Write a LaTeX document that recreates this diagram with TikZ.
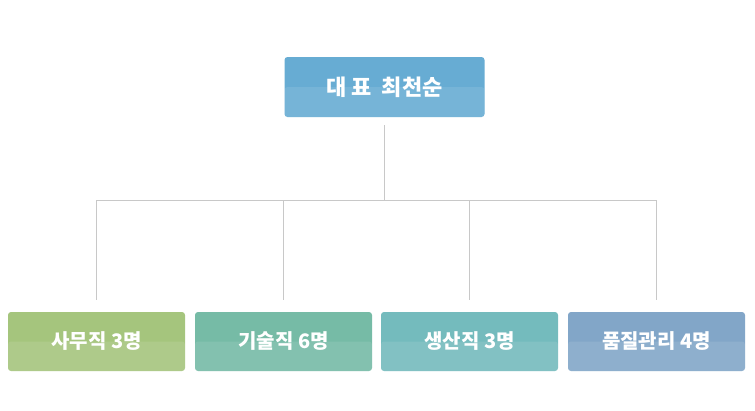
\documentclass[tikz,border=0pt]{standalone}
\usepackage{fontspec}
\setmainfont{Noto Sans CJK KR}
\definecolor{ceoblue}{HTML}{67ACD3}
\definecolor{officegreen}{HTML}{A5C57D}
\definecolor{techgreen}{HTML}{76BBA6}
\definecolor{prodteal}{HTML}{74BBBD}
\definecolor{qcblue}{HTML}{82A6C8}
\definecolor{linegray}{HTML}{C8C8C8}

\begin{document}
\begin{tikzpicture}[
    x=1pt, y=-1pt,
    box/.style={fill=#1, rounded corners=3pt, minimum width=177pt, minimum height=59pt, text=white, font=\fontsize{20}{24}\selectfont\bfseries,
      path picture={\fill[white, opacity=0.1] (path picture bounding box.west) rectangle (path picture bounding box.south east);}},
    link/.style={draw=linegray, line width=0.8pt}
]
\useasboundingbox (0,0) rectangle (755,410);

\node[box=ceoblue, minimum width=200pt, minimum height=60pt, font=\fontsize{22}{26}\selectfont\bfseries] (ceo) at (384.5,87) {대\ 표\ \ 최천순};
\coordinate (hub) at (384.5,200);

\node[box=officegreen] (office) at (96.5,341.5) {사무직 3명};
\node[box=techgreen] (tech) at (283.5,341.5) {기술직 6명};
\node[box=prodteal] (prod) at (469.5,341.5) {생산직 3명};
\node[box=qcblue] (qc) at (656.5,341.5) {품질관리 4명};

\draw[link, shorten <=8pt] (ceo.south) -- (hub);
\draw[link, shorten >=12pt] (hub) -| (office.north);
\draw[link, shorten >=12pt] (hub) -| (tech.north);
\draw[link, shorten >=12pt] (hub) -| (prod.north);
\draw[link, shorten >=12pt] (hub) -| (qc.north);
\end{tikzpicture}
\end{document}
